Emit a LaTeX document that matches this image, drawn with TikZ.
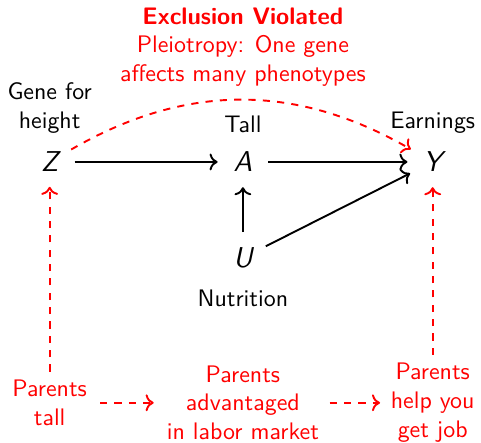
\documentclass[tikz,border=0pt]{standalone}
\usepackage{tikz}
\usetikzlibrary{positioning, arrows.meta}

\begin{document}
\begin{tikzpicture}[
  font=\sffamily,
  node distance=1pt,
  var/.style={circle, inner sep=3.33pt, font=\sffamily\large\itshape},
  lbl/.style={align=center},
  note/.style={align=center, text=red},
  arrow/.style={thick, ->},
  link/.style={thick, ->, red, dashed}
]
\useasboundingbox (-3.57,-4.13) rectangle (3.5,2.38);

% Variables
\node[var] (Z) at (-2.84,0) {Z};
\node[var] (A) at (0,0) {A};
\node[var] (Y) at (2.79,0) {Y};
\node[var] (U) at (0,-1.41) {U};

% Labels
\node[lbl, above=-2pt of Z] (gene) {Gene for\\height};
\node[lbl, above=-2pt of A] (tall) {Tall};
\node[lbl, above=-2pt of Y] (earn) {Earnings};
\node[lbl, below=-0.7pt of U] (nutr) {Nutrition};

% Violation note
\node[note] (excl) at (0,1.69) {\textbf{Exclusion Violated}\\Pleiotropy: One gene\\affects many phenotypes};

% Parents path
\node[note] (ptall) at (-2.84,-3.54) {Parents\\tall};
\node[note] (padv) at (0,-3.54) {Parents\\advantaged\\in labor market};
\node[note] (phelp) at (2.79,-3.54) {Parents\\help you\\get job};

% Arrows
\draw[arrow] (Z) -- (A);
\draw[arrow] (A) -- (Y);
\draw[arrow] (U) -- (A);
\draw[arrow] (U) -- (Y);
\draw[link] (Z) to[bend left=30] (Y);
\draw[link] (ptall) -- (Z);
\draw[link] (phelp) -- (Y);
\draw[link, shorten <=2pt, shorten >=2pt] (ptall) -- (padv);
\draw[link, shorten <=1pt, shorten >=1pt] (padv) -- (phelp);

\end{tikzpicture}
\end{document}
